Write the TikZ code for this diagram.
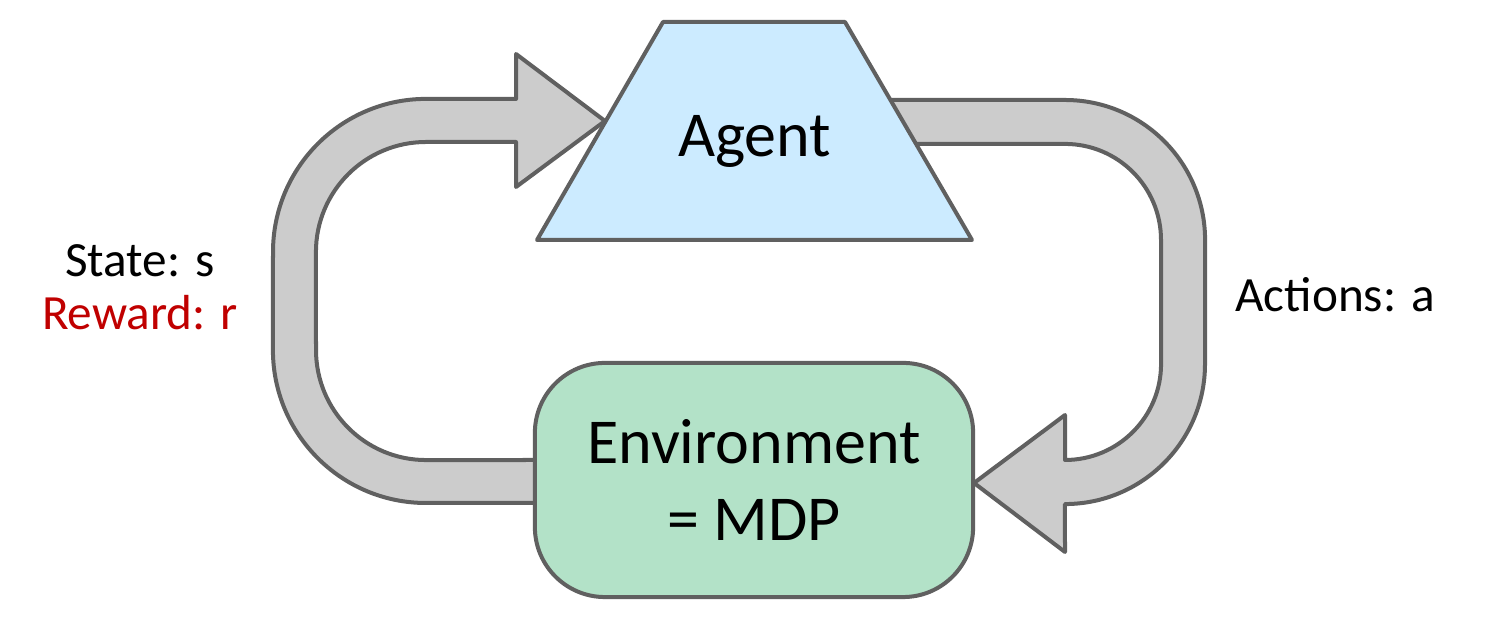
\documentclass[tikz,border=0pt]{standalone}
\usepackage{fontspec}
\setmainfont{Carlito}
\definecolor{edgegray}{HTML}{606060}
\definecolor{bandgray}{HTML}{CCCCCC}
\definecolor{agentblue}{HTML}{CCEBFF}
\definecolor{envgreen}{HTML}{B3E2C8}
\definecolor{rewardred}{HTML}{C00000}
\tikzset{
  shapeline/.style={draw=edgegray, line width=0.04cm, line join=round},
  band/.style={shapeline, fill=bandgray},
  bigtext/.style={font=\fontsize{18.2}{21.9}\selectfont, inner sep=0pt},
  smalltext/.style={font=\fontsize{14}{17}\selectfont, inner sep=0pt}
}
\begin{document}
\begin{tikzpicture}[x=0.01cm, y=0.01cm]
\useasboundingbox (0,0) rectangle (1485,619);
% left band: state/reward back to agent
\path[band] (545,116) -- (426,116) arc[start angle=270, end angle=180, radius=1.53cm]
  -- (273,367) arc[start angle=180, end angle=90, radius=1.53cm]
  -- (516,520) -- (516,565) -- (605,498) -- (516,432) -- (516,477) -- (426,477)
  arc[start angle=90, end angle=180, radius=1.10cm]
  -- (316,269) arc[start angle=180, end angle=270, radius=1.10cm]
  -- (545,159) -- cycle;
% right band: actions to environment
\path[band] (880,519) -- (1065,519) arc[start angle=90, end angle=0, radius=1.40cm]
  -- (1205,255) arc[start angle=0, end angle=-90, radius=1.40cm]
  -- (1065,67) -- (974,136) -- (1065,204) -- (1065,159)
  arc[start angle=-90, end angle=0, radius=0.96cm]
  -- (1161,379) arc[start angle=0, end angle=90, radius=0.96cm]
  -- (880,475) -- cycle;
% agent trapezoid
\path[shapeline, fill=agentblue] (537,379) -- (972,379) -- (845,597) -- (663,597) -- cycle;
\node[bigtext, anchor=base] (agent) at (754.5,462) {Agent};
% environment
\node[shapeline, fill=envgreen, rounded corners=0.7cm, minimum width=4.38cm,
      minimum height=2.34cm, inner sep=0pt, align=center,
      font=\fontsize{18.2}{21.9}\selectfont] (env) at (754,139) {Environment\\= MDP};
% labels
\node[smalltext, anchor=base] (state) at (140,342) {State: s};
\node[smalltext, anchor=base, text=rewardred] (reward) at (140,289) {Reward: r};
\node[smalltext, anchor=base] (actions) at (1335,307) {Actions: a};
\end{tikzpicture}
\end{document}
